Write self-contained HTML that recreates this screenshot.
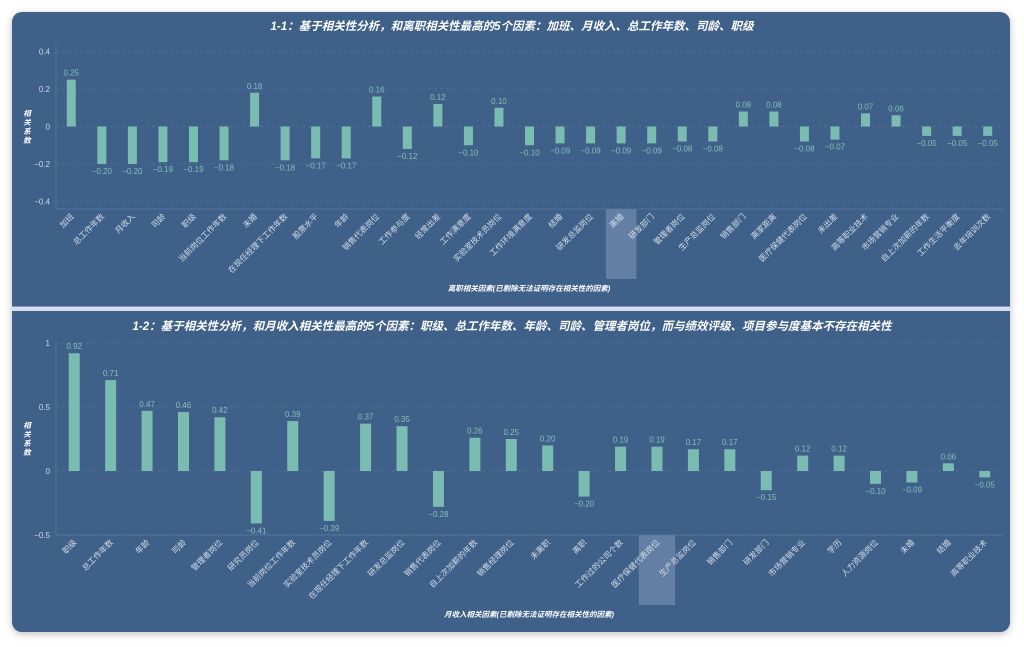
<!DOCTYPE html>
<html><head><meta charset="utf-8">
<style>
body{margin:0;width:1024px;height:647px;background:#fff;overflow:hidden;font-family:"Liberation Sans","Noto Sans CJK SC",sans-serif;}
#card{position:absolute;left:12px;top:12px;width:998px;height:620px;background:#3e6089;border-radius:10px;box-shadow:0 2px 8px rgba(0,0,0,0.25);overflow:hidden;}
#sep{position:absolute;left:0;top:294px;width:998px;height:4px;background:#d7dde6;border-top:1px solid #7f95d8;}
svg{position:absolute;left:0;top:0;}
</style></head><body>
<div id="card"><div id="sep"></div></div>
<svg id="svg" width="1024" height="647"></svg>
<script>
const cats1=["加班","总工作年数","月收入","司龄","职级","当前岗位工作年数","未婚","在现任经理下工作年数","股票水平","年龄","销售代表岗位","工作参与度","经常出差","工作满意度","实验室技术员岗位","工作环境满意度","结婚","研发总监岗位","离婚","研发部门","管理者岗位","生产总监岗位","销售部门","离家距离","医疗保健代表岗位","未出差","高等职业技术","市场营销专业","自上次加薪的年数","工作生活平衡度","去年培训次数"];
const vals1=[0.25,-0.20,-0.20,-0.19,-0.19,-0.18,0.18,-0.18,-0.17,-0.17,0.16,-0.12,0.12,-0.10,0.10,-0.10,-0.09,-0.09,-0.09,-0.09,-0.08,-0.08,0.08,0.08,-0.08,-0.07,0.07,0.06,-0.05,-0.05,-0.05];
const ticks1=[0.4,0.2,0,-0.2,-0.4];
const tickLabels1=["0.4","0.2","0","−0.2","−0.4"];
const cats2=["职级","总工作年数","年龄","司龄","管理者岗位","研究员岗位","当前岗位工作年数","实验室技术员岗位","在现任经理下工作年数","研发总监岗位","销售代表岗位","自上次加薪的年数","销售经理岗位","未离职","离职","工作过的公司个数","医疗保健代表岗位","生产总监岗位","销售部门","研发部门","市场营销专业","学历","人力资源岗位","未婚","结婚","高等职业技术"];
const vals2=[0.92,0.71,0.47,0.46,0.42,-0.41,0.39,-0.39,0.37,0.35,-0.28,0.26,0.25,0.20,-0.20,0.19,0.19,0.17,0.17,-0.15,0.12,0.12,-0.10,-0.09,0.06,-0.05];
const ticks2=[1,0.5,0,-0.5];
const tickLabels2=["1","0.5","0","−0.5"];

const NS="http://www.w3.org/2000/svg";
const svg=document.getElementById('svg');
function mk(tag,attrs,parent){const e=document.createElementNS(NS,tag);for(const k in attrs)e.setAttribute(k,attrs[k]);(parent||svg).appendChild(e);return e;}
function fmt(v){return (v<0?"−":"")+Math.abs(v).toFixed(2);}

function chart(o){
  const g=mk('g',{});
  
  
  const x0=56,x1=1003,n=o.cats.length,bw=(x1-x0)/n;
  const y=v=>o.yTop+(o.max-v)/(o.max-o.min)*(o.yBot-o.yTop);
  const xc=i=>x0+bw*(i+0.5);
  // highlight band
  const hb=mk('rect',{x:x0+bw*o.hi,y:o.yBot,width:bw,height:70,fill:'#6a85a8',opacity:0.85},g);
  
  
  // title
  const t=mk('text',{x:512,y:o.titleY,'text-anchor':'middle',fill:'#fff','font-size':11.5,'font-weight':'bold','font-style':'italic'},g);
  t.textContent=o.title;
  
  
  // grid + ticks
  o.ticks.forEach((tv,i)=>{
    const gl=mk('line',{x1:x0,x2:x1,y1:y(tv),y2:y(tv),stroke:'#56769c','stroke-dasharray':'3,3','stroke-width':0.8},g);
    
    
    const tl=mk('text',{x:x0-6,y:y(tv)+3,'text-anchor':'end',fill:'#cfd8e4','font-size':8},g);
    tl.textContent=o.tickLabels[i];
    
    
  });
  mk('line',{x1:x0,x2:x0,y1:o.yTop,y2:o.yBot,stroke:'#5a7aa0','stroke-width':0.8},g);
  mk('line',{x1:x0,x2:x1,y1:o.yBot,y2:o.yBot,stroke:'#5a7aa0','stroke-width':0.8},g);
  // y title
  const yt=mk('text',{x:27,y:o.yTitleY,'text-anchor':'middle',fill:'#fff','font-size':7.5,'font-weight':'bold','font-style':'italic'},g);
  
  
  ["相","关","系","数"].forEach((c,i)=>{const s=mk('tspan',{x:27,dy:i?9:0},yt);s.textContent=c;});
  // x title
  const xt=mk('text',{x:529,y:o.xTitleY,'text-anchor':'middle',fill:'#fff','font-size':7.5,'font-weight':'bold','font-style':'italic'},g);
  xt.textContent=o.xTitle;
  
  
  o.vals.forEach((v,i)=>{
    const yz=y(0),yv=y(v);
    const b=mk('rect',{x:xc(i)-o.barW/2,y:Math.min(yz,yv),width:o.barW,height:Math.abs(yv-yz),fill:'#7bbcb2'},g);
    
    
    const vl=mk('text',{x:xc(i),y:v>=0?yv-4:yv+10,'text-anchor':'middle',fill:'#86c0b6','font-size':8},g);
    vl.textContent=fmt(v);
    
    
    const cl=mk('text',{x:0,y:0,'text-anchor':'end',fill:'#d7dfe9','font-size':8,transform:`translate(${xc(i)+3},${o.yBot+8}) rotate(-45)`},g);
    cl.textContent=o.cats[i];
    
    
  });
}
chart({name:'chart-attrition-correlation',cats:cats1,vals:vals1,ticks:ticks1,tickLabels:tickLabels1,max:0.44,min:-0.44,yTop:44,yBot:209,barW:9,hi:18,
  title:'1-1：基于相关性分析，和离职相关性最高的5个因素：加班、月收入、总工作年数、司龄、职级',titleY:30,yTitleY:116,xTitle:'离职相关因素(已剔除无法证明存在相关性的因素)',xTitleY:291});
chart({name:'chart-income-correlation',cats:cats2,vals:vals2,ticks:ticks2,tickLabels:tickLabels2,max:1,min:-0.5,yTop:343,yBot:535,barW:11,hi:16,
  title:'1-2：基于相关性分析，和月收入相关性最高的5个因素：职级、总工作年数、年龄、司龄、管理者岗位，而与绩效评级、项目参与度基本不存在相关性',titleY:330,yTitleY:428,xTitle:'月收入相关因素(已剔除无法证明存在相关性的因素)',xTitleY:617});
</script>
</body></html>
